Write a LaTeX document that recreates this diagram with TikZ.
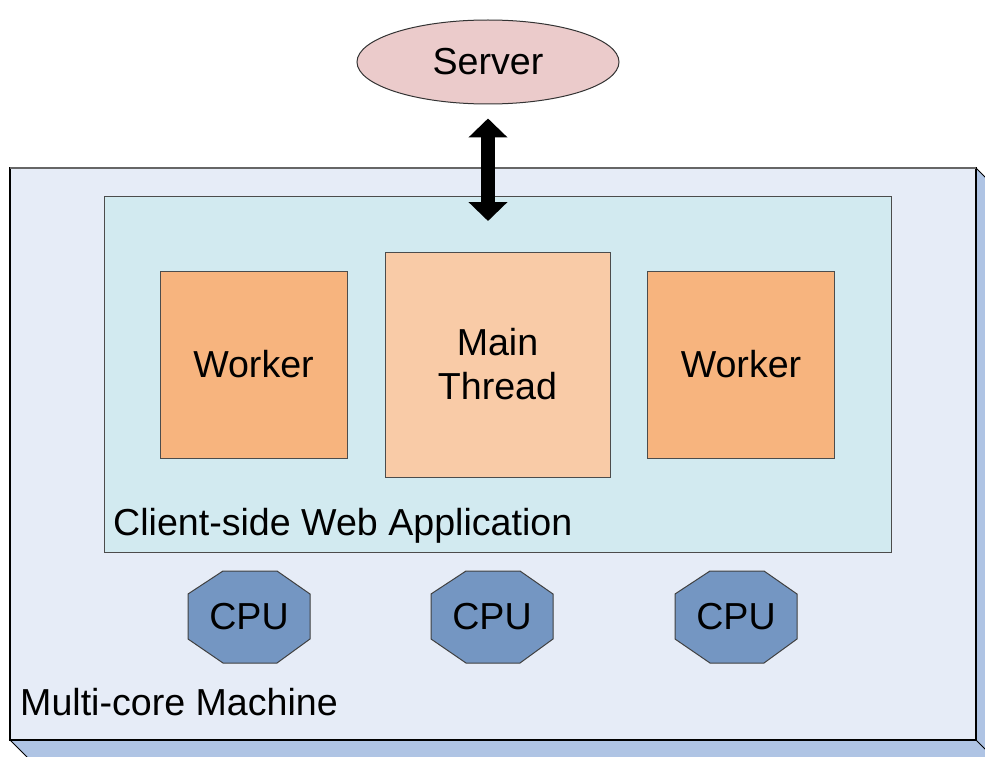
\documentclass[tikz,border=0pt]{standalone}
\usepackage{fontspec}
\setmainfont{Liberation Sans}
\usetikzlibrary{arrows.meta,shapes.geometric}
\definecolor{machinefill}{HTML}{E6ECF7}
\definecolor{machineside}{HTML}{AFC4E4}
\definecolor{appfill}{HTML}{D2EAF0}
\definecolor{workerfill}{HTML}{F7B47E}
\definecolor{mainfill}{HTML}{F9CBA7}
\definecolor{serverfill}{HTML}{EBCBCB}
\definecolor{cpufill}{HTML}{7496C2}
\tikzset{
  big/.style={font=\fontsize{37.6}{44}\selectfont},
  workerbox/.style={draw=black!70, line width=1pt, fill=workerfill, minimum width=187pt, minimum height=187pt, inner sep=0pt, big, align=center},
  mainbox/.style={draw=black!70, line width=1pt, fill=mainfill, minimum width=225pt, minimum height=225pt, inner sep=0pt, big, align=center},
  lbl/.style={big, anchor=base west, inner sep=0pt},
  cpushape/.style={draw=black!75, line width=1pt, fill=cpufill},
}
\begin{document}
\begin{tikzpicture}[x=1pt,y=-1pt]
\useasboundingbox (0,0) rectangle (985,757);
\begin{scope}
\clip (0,0) rectangle (985,757);
% machine 3D box
\fill[machineside, draw=black, line width=1pt] (976,168) -- (996,188) -- (996,760) -- (30,760) -- (10,740) -- (976,740) -- cycle;
\draw[black, line width=1pt] (976,740) -- (996,760);
\draw[fill=machinefill, draw=black, line width=1.2pt] (10,168) rectangle (976,740);
\draw[black!60, line width=2pt] (10,168) -- (976,168);
\end{scope}
\node[lbl] (machinelbl) at (20,715) {Multi-core Machine};
% app box
\draw[fill=appfill, draw=black!70, line width=1pt] (104,196) rectangle (891,552);
\node[lbl] (applbl) at (113,535) {Client-side Web Application};
% workers and main thread
\node[workerbox] (w1) at (253.5,364.5) {Worker};
\node[mainbox] (main) at (497.5,364.5) {Main\\Thread};
\node[workerbox] (w2) at (741,364.5) {Worker};
% CPUs
\foreach \cx/\nm in {249/c1,492/c2,736/c3}{
  \draw[cpushape] (\cx-26,571) -- (\cx+28,571) -- (\cx+61,594) -- (\cx+61,639) -- (\cx+28,663) -- (\cx-26,663) -- (\cx-61,639) -- (\cx-61,594) -- cycle;
  \node[big, inner sep=0pt] (\nm) at (\cx,617) {CPU};
}
% server
\node[ellipse, draw=black!80, line width=1pt, fill=serverfill, minimum width=262pt, minimum height=84pt, inner sep=0pt, big] (server) at (488,62) {Server};
\coordinate (apptop) at (488,221);
\draw[line width=14pt, {Triangle[width=38pt,length=19pt]}-{Triangle[width=38pt,length=19pt]}] ([yshift=-14pt]server.south) -- (apptop);
\end{tikzpicture}
\end{document}
